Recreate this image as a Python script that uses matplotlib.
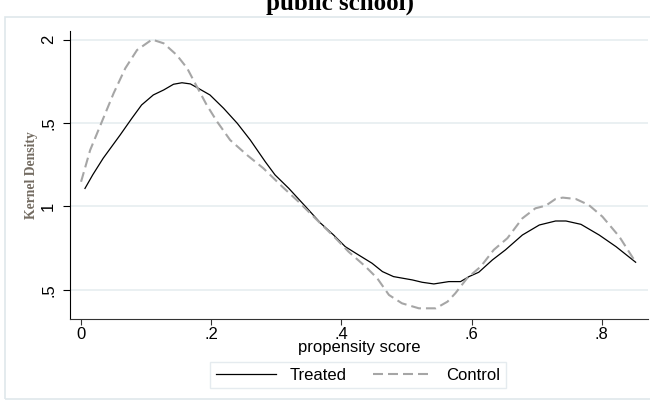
import matplotlib
matplotlib.use("Agg")
import matplotlib.pyplot as plt
from matplotlib.patches import Rectangle

# kernel density estimates of the propensity score
treated_x = [0.006, 0.018, 0.034, 0.060, 0.078, 0.093, 0.111, 0.127, 0.142, 0.155,
             0.168, 0.180, 0.198, 0.219, 0.240, 0.260, 0.283, 0.298, 0.319, 0.345,
             0.368, 0.388, 0.406, 0.422, 0.447, 0.463, 0.480, 0.509, 0.524, 0.542,
             0.565, 0.583, 0.596, 0.611, 0.632, 0.652, 0.678, 0.704, 0.729, 0.745,
             0.768, 0.796, 0.822, 0.852]
treated_y = [1.108, 1.190, 1.289, 1.428, 1.528, 1.608, 1.668, 1.698, 1.732, 1.741,
             1.734, 1.708, 1.668, 1.588, 1.498, 1.398, 1.268, 1.189, 1.109, 0.999,
             0.900, 0.829, 0.759, 0.720, 0.660, 0.610, 0.580, 0.560, 0.546, 0.536,
             0.550, 0.550, 0.580, 0.606, 0.680, 0.740, 0.829, 0.889, 0.913, 0.913,
             0.893, 0.829, 0.759, 0.666]

control_x = [0.000, 0.014, 0.032, 0.050, 0.068, 0.086, 0.109, 0.127, 0.147, 0.163,
             0.178, 0.193, 0.209, 0.229, 0.255, 0.280, 0.309, 0.334, 0.365, 0.391,
             0.411, 0.437, 0.455, 0.473, 0.493, 0.519, 0.545, 0.563, 0.575, 0.593,
             0.614, 0.634, 0.655, 0.678, 0.698, 0.714, 0.729, 0.740, 0.760, 0.780,
             0.801, 0.827, 0.852]
control_y = [1.148, 1.338, 1.508, 1.678, 1.828, 1.937, 2.000, 1.977, 1.907, 1.828,
             1.717, 1.608, 1.508, 1.398, 1.308, 1.229, 1.119, 1.029, 0.909, 0.810,
             0.729, 0.640, 0.570, 0.470, 0.420, 0.390, 0.390, 0.430, 0.480, 0.570,
             0.640, 0.740, 0.810, 0.929, 0.989, 1.005, 1.045, 1.053, 1.045, 1.009,
             0.939, 0.819, 0.666]

x_ticks = [0, 0.2, 0.4, 0.6, 0.8]
x_labels = ["0", ".2", ".4", ".6", ".8"]
y_ticks = [0.5, 1.0, 1.5, 2.0]
y_labels = [".5", "1", ".5", "2"]

W, H = 650, 401
fig = plt.figure(figsize=(W / 100, H / 100), dpi=100)
fig.patch.set_facecolor("white")

# light frame around the graph region
fig.patches.append(Rectangle((5 / W, 0.005), 1.2, 1 - 17 / H - 0.005,
                             transform=fig.transFigure, fill=False,
                             edgecolor="#dfe7eb", linewidth=1.2))

ax = fig.add_axes([70 / W, 82 / H, 578 / W, 288 / H])
ax.set_xlim(-0.017, 0.871)
ax.set_ylim(0.326, 2.051)

for y in y_ticks:
    ax.axhline(y, color="#e6edf0", linewidth=1.2, zorder=0)

ax.plot(treated_x, treated_y, color="black", linewidth=0.9, label="Treated")
ax.plot(control_x, control_y, color="#a6a6a6", linewidth=1.5,
        dashes=(4.8, 2.4), label="Control")

for side in ["top", "right"]:
    ax.spines[side].set_visible(False)
ax.spines["left"].set_color("black")
ax.spines["bottom"].set_color("#333333")

ax.set_xticks(x_ticks)
ax.set_xticklabels(x_labels, family="Liberation Sans", fontsize=12)
ax.set_yticks(y_ticks)
ax.set_yticklabels(y_labels, family="Liberation Sans", fontsize=12,
                   rotation=90, va="center")
ax.tick_params(axis="x", length=4.5, pad=1, color="#333333")
ax.tick_params(axis="y", length=5, pad=5)

ax.set_xlabel("propensity score", family="Liberation Sans", fontsize=12,
              labelpad=-1)

fig.text(32 / W, 1 - 175 / H, "Kernel Density", rotation=90, ha="center",
         va="center", family="Liberation Serif", fontsize=9.8,
         color="#5b5246", fontweight="bold", alpha=0.85)

fig.text(340 / W, 1 - 10 / H, "public school)", ha="center", va="baseline",
         family="Liberation Serif", fontweight="bold", fontsize=18)

leg = fig.legend(loc="center", bbox_to_anchor=(358 / W, 1 - 375 / H), ncol=2,
                 prop={"family": "Liberation Sans", "size": 12},
                 handlelength=3.6, columnspacing=1.6, handletextpad=0.8,
                 borderpad=0.35, fancybox=False, frameon=True)
leg.get_frame().set_edgecolor("#dfe7eb")
leg.get_frame().set_linewidth(1.0)

fig.savefig("out.png", dpi=100)
